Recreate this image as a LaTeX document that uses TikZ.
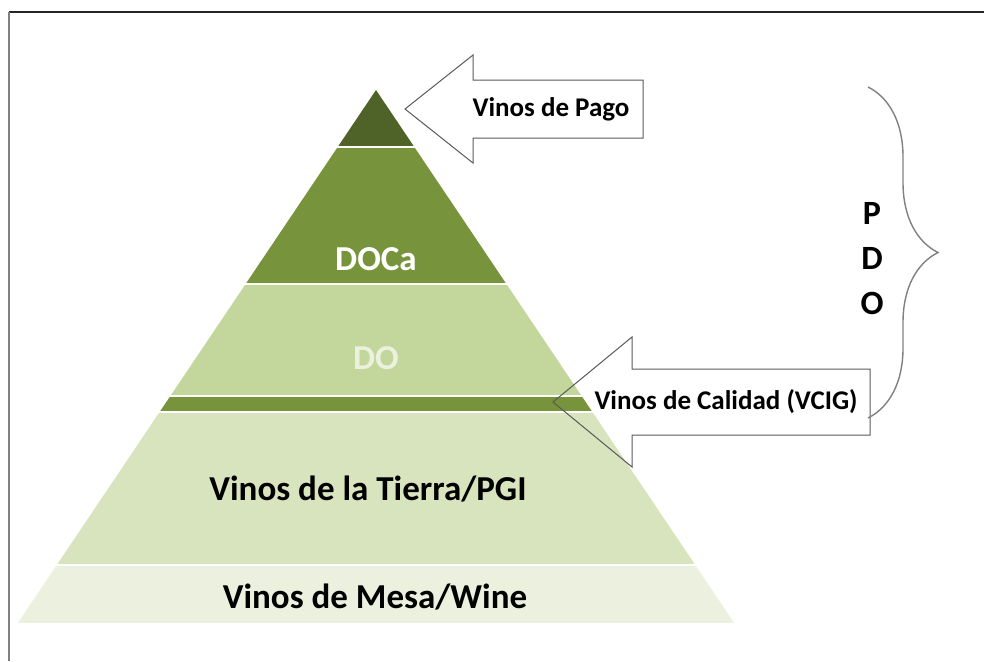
\documentclass[tikz,border=0pt]{standalone}
\usepackage{fontspec}
\setmainfont{Carlito}
\usetikzlibrary{positioning,decorations.pathreplacing}
\definecolor{oliveDark}{HTML}{4F6228}
\definecolor{oliveMid}{HTML}{77933C}
\definecolor{oliveLight}{HTML}{C3D69B}
\definecolor{olivePale}{HTML}{D7E4BD}
\definecolor{oliveMist}{HTML}{EBF1DE}
\definecolor{frameGray}{HTML}{595959}

\begin{document}
\begin{tikzpicture}[x=1pt, y=-1pt,
					tiertext/.style={font=\fontsize{35}{40}\selectfont\bfseries, inner sep=0pt},
					callout/.style={draw=frameGray, line width=1pt, line join=miter},
					callouttext/.style={font=\fontsize{27}{32}\selectfont\bfseries, inner sep=0pt},
					pdotext/.style={font=\fontsize{34}{45}\selectfont\bfseries, align=center, inner sep=0pt},
					bracket/.style={draw=gray, line width=1.4pt, decorate, decoration={brace, amplitude=70pt}}
					]
					\useasboundingbox (0,0) rectangle (984,661);
					% frame
					\draw[black!85, line width=2pt] (9,12) -- (984,12);
					\draw[gray, line width=1.2pt] (9,12) -- (9,661);
					% pyramid
					\begin{scope}
						\clip (376,90) -- (17.8,623) -- (734.2,623) -- cycle;
						\fill[oliveDark] (0,90) rectangle (984,146);
						\fill[oliveMid] (0,148) rectangle (984,283);
						\fill[oliveLight] (0,285) rectangle (984,395);
						\fill[oliveMid] (0,397) rectangle (984,411);
						\fill[olivePale] (0,413) rectangle (984,564);
						\fill[oliveMist] (0,566) rectangle (984,623);
					\end{scope}
					\node[tiertext, text=white] (DOCa) at (376,259) {DOCa};
					\node[tiertext, text=oliveMist] (DO) at (376,358) {DO};
					\node[tiertext] (Tierra) at (368,489) {Vinos de la Tierra/PGI};
					\node[tiertext] (Mesa) at (375,597) {Vinos de Mesa/Wine};
					% callouts
					\coordinate (pagotip) at (405,109);
					\draw[callout] (pagotip) -- (473,55) -- (473,80) -- (643,80) -- (643,138)
						-- (473,138) -- (473,163) -- cycle;
					\node[callouttext] (Pago) at (551,109) {Vinos de Pago};
					\coordinate (calidadtip) at (553,402);
					\draw[callout] (calidadtip) -- (632,337) -- (632,369) -- (870,369) -- (870,435)
						-- (632,435) -- (632,467) -- cycle;
					\node[callouttext] (Calidad) at (726,402) {Vinos de Calidad (VCIG)};
					% PDO bracket
					\coordinate (bracetop) at (868,87);
					\coordinate (bracebot) at (868,418);
					\draw[bracket] (bracetop) -- (bracebot);
					\node[pdotext] (PDO) at (872,259) {P\\D\\O};
				\end{tikzpicture}
\end{document}
